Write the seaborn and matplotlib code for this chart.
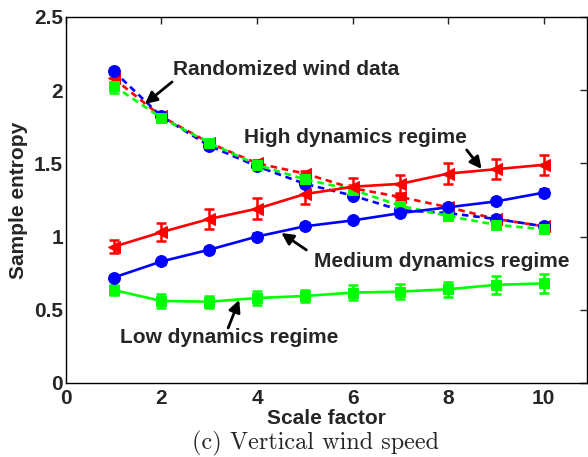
import numpy as np
import pandas as pd
import matplotlib
matplotlib.use("Agg")
import matplotlib.pyplot as plt
import seaborn as sns

scale = [1, 2, 3, 4, 5, 6, 7, 8, 9, 10]

high = [0.93, 1.03, 1.12, 1.19, 1.29, 1.34, 1.36, 1.43, 1.46, 1.49]
high_err = [0.045, 0.06, 0.07, 0.07, 0.07, 0.063, 0.06, 0.074, 0.07, 0.07]
medium = [0.72, 0.83, 0.91, 1.00, 1.07, 1.11, 1.16, 1.20, 1.24, 1.30]
medium_err = [0.02, 0.02, 0.02, 0.025, 0.02, 0.02, 0.02, 0.02, 0.02, 0.025]
low = [0.635, 0.56, 0.555, 0.58, 0.594, 0.617, 0.624, 0.64, 0.67, 0.68]
low_err = [0.035, 0.045, 0.04, 0.045, 0.04, 0.05, 0.05, 0.05, 0.06, 0.066]

rand_high = [2.08, 1.82, 1.64, 1.50, 1.43, 1.33, 1.27, 1.20, 1.12, 1.07]
rand_high_err = [0.03, 0.02, 0.02, 0.02, 0.02, 0.02, 0.02, 0.02, 0.02, 0.02]
rand_medium = [2.13, 1.82, 1.62, 1.48, 1.36, 1.28, 1.18, 1.16, 1.12, 1.07]
rand_medium_err = [0.02, 0.02, 0.02, 0.02, 0.02, 0.02, 0.02, 0.02, 0.02, 0.02]
rand_low = [2.03, 1.81, 1.64, 1.49, 1.39, 1.32, 1.21, 1.14, 1.08, 1.05]
rand_low_err = [0.05, 0.02, 0.02, 0.02, 0.02, 0.02, 0.02, 0.02, 0.02, 0.02]

xticks = [0, 2, 4, 6, 8, 10]
yticks = [0, 0.5, 1, 1.5, 2, 2.5]
ytick_labels = ["0", "0.5", "1", "1.5", "2", "2.5"]

sns.set_style("white")
plt.rcParams["font.family"] = ["Liberation Sans", "DejaVu Sans"]
plt.rcParams["font.weight"] = "bold"

FS = 15

fig = plt.figure(figsize=(5.88, 4.57), dpi=100)
ax = fig.add_axes([0.112, 0.162, 0.886, 0.801])

RED, BLUE, GREEN = (1, 0, 0), (0, 0, 1), (0, 1, 0)

series = [
    (rand_high, rand_high_err, RED, "<", "--", 8.5),
    (rand_medium, rand_medium_err, BLUE, "o", "--", 8.5),
    (rand_low, rand_low_err, GREEN, "s", "--", 7.5),
    (high, high_err, RED, "<", "-", 8.5),
    (medium, medium_err, BLUE, "o", "-", 8.5),
    (low, low_err, GREEN, "s", "-", 7.5),
]

for vals, errs, col, mk, ls, ms in series:
    df = pd.DataFrame({"x": scale, "y": vals})
    ax.errorbar(scale, vals, yerr=errs, fmt="none", ecolor=col,
                elinewidth=1.8, capsize=3.5, capthick=1.8, zorder=2)
    sns.lineplot(data=df, x="x", y="y", ax=ax, color=col, marker=mk,
                 markersize=ms, markeredgecolor=col, linewidth=1.9,
                 linestyle=ls, dashes=False, zorder=3)
    if ls == "--":
        ax.lines[-1].set_dashes([2.5, 1.8])

ax.set_xlim(0, 10.9)
ax.set_ylim(0, 2.5)
ax.set_xticks(xticks)
ax.set_xticklabels([str(t) for t in xticks])
ax.set_yticks(yticks)
ax.set_yticklabels(ytick_labels)
ax.tick_params(direction="in", top=True, right=True, length=5, width=1,
               labelsize=FS)
ax.tick_params(axis="x", pad=4)
ax.tick_params(axis="y", pad=2)
for lab in ax.get_xticklabels() + ax.get_yticklabels():
    lab.set_fontweight("bold")
for sp in ax.spines.values():
    sp.set_visible(True)
    sp.set_color("black")
    sp.set_linewidth(1.0)

ax.set_xlabel("Scale factor", fontsize=FS, fontweight="bold", labelpad=1)
ax.set_ylabel("Sample entropy", fontsize=FS, fontweight="bold", labelpad=4)

def to_data(px, py):
    x0, x10 = 66, 543
    return ((px - x0) / (x10 - x0) * 10, (383 - py) / 146.4)

ann = [
    ("Randomized wind data", (286, 70), (172, 82), (145, 104)),
    ("High dynamics regime", (355, 138), (466, 150), (481, 169)),
    ("Medium dynamics regime", (441, 262), (306, 250), (281, 233)),
    ("Low dynamics regime", (229, 338), (228, 328), (239, 300)),
]
for txt, tpos, tail, tip in ann:
    ax.text(*to_data(*tpos), txt, ha="center", va="center",
            fontsize=FS, fontweight="bold")
    ax.annotate("", xy=to_data(*tip), xytext=to_data(*tail),
                arrowprops=dict(arrowstyle="-|>,head_length=0.7,head_width=0.35",
                                color="black", lw=2, shrinkA=0, shrinkB=0))

fig.text(315.5 / 588, 1 - 443 / 457, "(c) Vertical wind speed",
         ha="center", va="center", fontsize=17.5, family="cmr10",
         fontweight="normal")

fig.savefig("out.png", dpi=100)
